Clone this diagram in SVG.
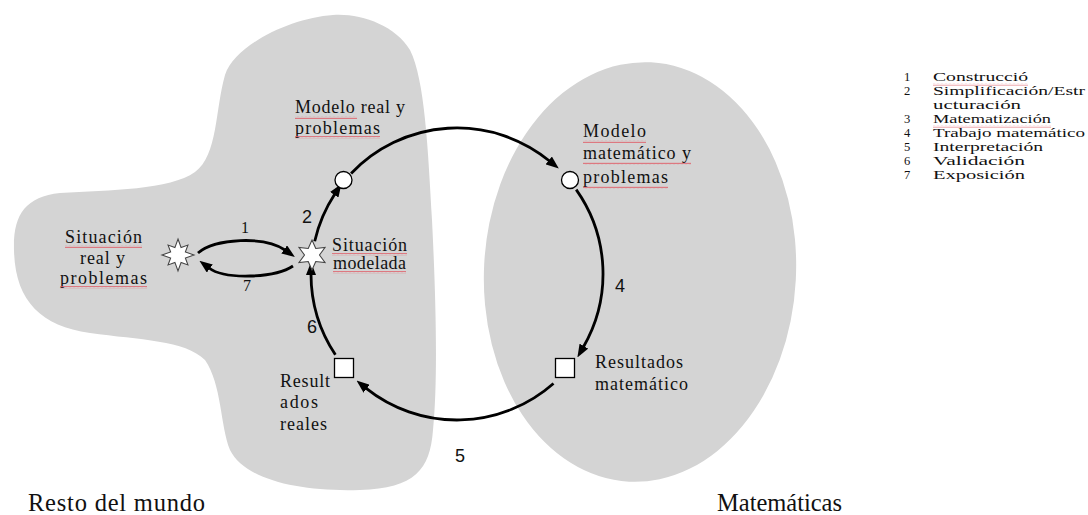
<svg xmlns="http://www.w3.org/2000/svg" width="1088" height="515" viewBox="0 0 1088 515">
<style>
.region{fill:#d4d4d4;stroke:none}
.lbl{font-family:"Liberation Serif","Times New Roman",serif;font-size:18px;fill:#111}
.big{font-family:"Liberation Serif","Times New Roman",serif;font-size:24.5px;fill:#111}
.leg{font-family:"Liberation Serif","Times New Roman",serif;font-size:12.6px;fill:#111}
.num{font-family:"Liberation Sans",Arial,sans-serif;font-size:18px;fill:#111;text-anchor:middle}
.nums{font-family:"Liberation Serif","Times New Roman",serif;font-size:16px;fill:#111;text-anchor:middle}
.conn{fill:none;stroke:#000;stroke-width:2.8;marker-end:url(#ah)}
.node{fill:#fff;stroke:#000;stroke-width:1.3}
.star{fill:#fff;stroke:#444;stroke-width:1.1;stroke-linejoin:miter}
.sq{fill:url(#wave)}
</style>
<defs>
<marker id="ah" viewBox="0 0 13 10" refX="1" refY="5" markerWidth="13" markerHeight="10" markerUnits="userSpaceOnUse" orient="auto">
<path d="M0,0 L13,5 L0,10 Z" fill="#000"/>
</marker>
<pattern id="wave" width="4" height="3" patternUnits="userSpaceOnUse">
<path d="M0,2.2 L1,0.8 L2,2.2 L3,0.8 L4,2.2" fill="none" stroke="#e0606a" stroke-width="0.8"/>
</pattern>
</defs>
<rect width="1088" height="515" fill="#fff"/>

<g id="resto-del-mundo">
<path class="region" d="M333,15 C360,13 395,25 410,50 C425,80 428,150 432,220 C436,300 438,380 433,430 C430,470 415,488 360,490 C300,492 245,480 230,450 C220,425 222,385 205,360 C185,340 140,340 90,333 C40,326 15,300 14,250 C13,215 25,197 60,193 C110,190 170,190 195,172 C218,155 215,110 225,75 C235,45 290,18 333,15 Z"/>
<text class="big" x="28" y="511" textLength="177" lengthAdjust="spacing">Resto del mundo</text>
</g>

<g id="matematicas">
<ellipse class="region" cx="640" cy="272" rx="156" ry="210" transform="rotate(3 640 272)"/>
<text class="big" x="717" y="511" textLength="125" lengthAdjust="spacing">Matemáticas</text>
</g>

<g id="connectors">
<path class="conn" d="M351.1,173.5 A146,146 0 0 1 549.5,161"/>
<path class="conn" d="M576.2,189.6 A146,146 0 0 1 583.4,347"/>
<path class="conn" d="M553.5,383.5 A146,146 0 0 1 365.9,388.1"/>
<path class="conn" d="M335.4,354.8 A146,146 0 0 1 311,274"/>
<path class="conn" d="M314.7,241.2 A146,146 0 0 1 334.8,194"/>
<path class="conn" d="M198,253 C215,238 265,236 285,250"/>
<path class="conn" d="M293,266 C275,278 225,280 209,268"/>
<text class="nums" x="245" y="233">1</text>
<text class="num" x="307" y="223">2</text>
<text class="num" x="620" y="292">4</text>
<text class="num" x="460" y="462">5</text>
<text class="num" x="312" y="333">6</text>
<text class="nums" x="247" y="291">7</text>
</g>

<g id="situacion-real">
<polygon class="star" points="178,239 181.1,247.6 187.9,245.1 185.4,251.9 194,255 185.4,258.1 187.9,264.9 181.1,262.4 178,271 174.9,262.4 168.1,264.9 170.6,258.1 162,255 170.6,251.9 168.1,245.1 174.9,247.6"/>
<text class="lbl" x="65" y="243" textLength="77" lengthAdjust="spacing">Situación</text>
<text class="lbl" x="80" y="264" textLength="45" lengthAdjust="spacing">real y</text>
<text class="lbl" x="60" y="284" textLength="87" lengthAdjust="spacing">problemas</text>
<rect class="sq" x="65" y="245" width="77" height="3"/>
<rect class="sq" x="60" y="286" width="87" height="3"/>
</g>

<g id="situacion-modelada">
<polygon class="star" points="312,240 315.75,248.5 325,247.5 319.5,255 325,262.5 315.75,261.5 312,270 308.25,261.5 299,262.5 304.5,255 299,247.5 308.25,248.5"/>
<text class="lbl" x="332" y="251" textLength="75" lengthAdjust="spacing">Situación</text>
<text class="lbl" x="333" y="269" textLength="73" lengthAdjust="spacing">modelada</text>
<rect class="sq" x="332" y="253" width="75" height="3"/>
<rect class="sq" x="333" y="271" width="73" height="3"/>
</g>

<g id="modelo-real">
<circle class="node" cx="343.5" cy="180" r="8.5"/>
<text class="lbl" x="295" y="113" textLength="110" lengthAdjust="spacing">Modelo real y</text>
<text class="lbl" x="295" y="134" textLength="85" lengthAdjust="spacing">problemas</text>
<rect class="sq" x="295" y="116" width="62" height="3"/>
<rect class="sq" x="295" y="136" width="85" height="3"/>
</g>

<g id="modelo-matematico">
<circle class="node" cx="570" cy="180" r="8.5"/>
<text class="lbl" x="583" y="137" textLength="63" lengthAdjust="spacing">Modelo</text>
<text class="lbl" x="583" y="159" textLength="108" lengthAdjust="spacing">matemático y</text>
<text class="lbl" x="583" y="183" textLength="85" lengthAdjust="spacing">problemas</text>
<rect class="sq" x="583" y="140" width="63" height="3"/>
<rect class="sq" x="583" y="162" width="108" height="3"/>
<rect class="sq" x="583" y="186" width="85" height="3"/>
</g>

<g id="resultados-matematicos">
<rect class="node" x="555.5" y="358.5" width="19" height="19"/>
<text class="lbl" x="595" y="368" textLength="88" lengthAdjust="spacing">Resultados</text>
<text class="lbl" x="595" y="390" textLength="93" lengthAdjust="spacing">matemático</text>
</g>

<g id="resultados-reales">
<rect class="node" x="334.5" y="358.5" width="19" height="19"/>
<text class="lbl" x="280" y="387" textLength="50" lengthAdjust="spacing">Result</text>
<text class="lbl" x="280" y="408" textLength="38" lengthAdjust="spacing">ados</text>
<text class="lbl" x="280" y="430" textLength="47" lengthAdjust="spacing">reales</text>
</g>

<g id="leyenda">
<text class="leg" x="904" y="81">1</text>
<text class="leg" x="933" y="81" textLength="95" lengthAdjust="spacingAndGlyphs">Construcció</text>
<rect class="sq" x="933" y="83" width="95" height="2.5"/>
<text class="leg" x="904" y="95">2</text>
<text class="leg" x="933" y="95" textLength="152" lengthAdjust="spacingAndGlyphs">Simplificación/Estr</text>
<text class="leg" x="933" y="109" textLength="88" lengthAdjust="spacingAndGlyphs">ucturación</text>
<text class="leg" x="904" y="123">3</text>
<text class="leg" x="933" y="123" textLength="118" lengthAdjust="spacingAndGlyphs">Matematización</text>
<rect class="sq" x="933" y="125" width="118" height="2.5"/>
<text class="leg" x="904" y="137">4</text>
<text class="leg" x="933" y="137" textLength="152" lengthAdjust="spacingAndGlyphs">Trabajo matemático</text>
<text class="leg" x="904" y="151">5</text>
<text class="leg" x="933" y="151" textLength="110" lengthAdjust="spacingAndGlyphs">Interpretación</text>
<text class="leg" x="904" y="165">6</text>
<text class="leg" x="933" y="165" textLength="92" lengthAdjust="spacingAndGlyphs">Validación</text>
<text class="leg" x="904" y="179">7</text>
<text class="leg" x="933" y="179" textLength="92" lengthAdjust="spacingAndGlyphs">Exposición</text>
</g>
</svg>
